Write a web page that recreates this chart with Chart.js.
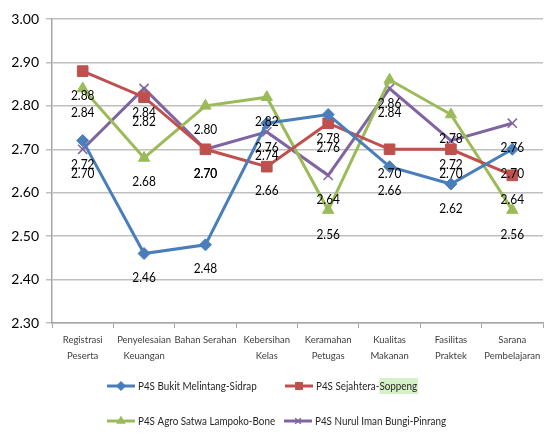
<!DOCTYPE html>
<html>
<head>
<meta charset="utf-8">
<script src="https://cdn.jsdelivr.net/npm/chart.js@4.4.1/dist/chart.umd.min.js"></script>
<style>
  html, body { margin: 0; padding: 0; background: #ffffff; }
  #wrap { width: 552px; height: 441px; position: relative; }
</style>
</head>
<body>
<div id="wrap"><canvas id="c" width="552" height="441"></canvas></div>
<script>
const categories = [
  ["Registrasi", "Peserta"],
  ["Penyelesaian", "Keuangan"],
  ["Bahan Serahan"],
  ["Kebersihan", "Kelas"],
  ["Keramahan", "Petugas"],
  ["Kualitas", "Makanan"],
  ["Fasilitas", "Praktek"],
  ["Sarana", "Pembelajaran"]
];
const seriesNames = [
  "P4S Bukit Melintang-Sidrap",
  "P4S Sejahtera-Soppeng",
  "P4S Agro Satwa Lampoko-Bone",
  "P4S Nurul Iman Bungi-Pinrang"
];
const bukitMelintang = [2.72, 2.46, 2.48, 2.76, 2.78, 2.66, 2.62, 2.70];
const sejahtera      = [2.88, 2.82, 2.70, 2.66, 2.76, 2.70, 2.70, 2.64];
const agroSatwa      = [2.84, 2.68, 2.80, 2.82, 2.56, 2.86, 2.78, 2.56];
const nurulIman      = [2.70, 2.84, 2.70, 2.74, 2.64, 2.84, 2.72, 2.76];
const yTicks = [2.30, 2.40, 2.50, 2.60, 2.70, 2.80, 2.90, 3.00];

const colors = ["#4A7EBB", "#C0504D", "#9BBB59", "#8064A2"];
const shapes = ["rectRot", "rect", "triangle", "crossRot"];
const radii  = [6, 7.5, 6.5, 6.5];
const values = [bukitMelintang, sejahtera, agroSatwa, nurulIman];

const FONT = 'Lato, "Open Sans", sans-serif';

const datasets = values.map((v, i) => ({
  label: seriesNames[i],
  data: v,
  borderColor: colors[i],
  backgroundColor: colors[i],
  borderWidth: 3,
  pointStyle: shapes[i],
  pointRadius: radii[i],
  pointBorderWidth: shapes[i] === "crossRot" ? 1.5 : 1,
  pointBorderColor: colors[i],
  pointBackgroundColor: colors[i],
  tension: 0,
  fill: false
}));

function narrowText(ctx, text, x, y, sx) {
  ctx.save();
  ctx.translate(x, y);
  ctx.scale(sx, 1);
  ctx.fillText(text, 0, 0);
  ctx.restore();
}

const valueLabels = {
  id: "valueLabels",
  afterDatasetsDraw(chart) {
    const ctx = chart.ctx;
    ctx.save();
    ctx.font = "14px " + FONT;
    ctx.fillStyle = "#000000";
    ctx.textAlign = "center";
    ctx.textBaseline = "middle";
    chart.data.datasets.forEach((ds, di) => {
      const meta = chart.getDatasetMeta(di);
      meta.data.forEach((pt, j) => {
        narrowText(ctx, ds.data[j].toFixed(2), pt.x, pt.y + 24, 0.85);
      });
    });
    ctx.restore();
  }
};

const customLegend = {
  id: "customLegend",
  afterDraw(chart) {
    const ctx = chart.ctx;
    const slots = [
      { x: 107, y: 386 }, { x: 285, y: 386 },
      { x: 107, y: 421 }, { x: 284, y: 421 }
    ];
    const SX = 0.82;
    ctx.save();
    ctx.font = "12px " + FONT;
    ctx.textBaseline = "middle";
    ctx.textAlign = "left";
    chart.data.datasets.forEach((ds, i) => {
      const s = slots[i];
      const textX = s.x + 31;
      if (ds.label.indexOf("Soppeng") >= 0) {
        const pre = ds.label.slice(0, ds.label.indexOf("Soppeng"));
        const x0 = textX + ctx.measureText(pre).width * SX;
        const w = ctx.measureText("Soppeng").width * SX;
        ctx.fillStyle = "#D6F0C8";
        ctx.fillRect(x0, s.y - 8, w + 1, 16);
      }
      ctx.strokeStyle = ds.borderColor;
      ctx.lineWidth = 3;
      ctx.beginPath();
      ctx.moveTo(s.x, s.y);
      ctx.lineTo(s.x + 28, s.y);
      ctx.stroke();
      ctx.fillStyle = ds.borderColor;
      ctx.strokeStyle = ds.borderColor;
      ctx.lineWidth = 1.5;
      Chart.helpers.drawPoint(ctx, {
        pointStyle: ds.pointStyle,
        radius: ds.pointStyle === "rect" ? 4.5 : 4,
        borderWidth: 1.5,
        rotation: 0
      }, s.x + 14, s.y);
      ctx.fillStyle = "#262626";
      narrowText(ctx, ds.label, textX, s.y, SX);
    });
    ctx.restore();
  }
};

new Chart(document.getElementById("c"), {
  type: "line",
  data: { labels: categories, datasets: datasets },
  plugins: [valueLabels, customLegend],
  options: {
    responsive: false,
    animation: false,
    layout: { padding: { left: 0, right: 9, top: 19, bottom: 78 } },
    plugins: {
      legend: { display: false },
      title: { display: false },
      tooltip: { enabled: false }
    },
    scales: {
      x: {
        type: "category",
        offset: true,
        afterFit(scale) { scale.height = 40; },
        grid: {
          display: true,
          offset: true,
          drawOnChartArea: false,
          drawTicks: true,
          tickLength: 5,
          color: "#A6A6A6",
          lineWidth: 1
        },
        border: { display: true, color: "#A6A6A6", width: 1.5 },
        ticks: {
          color: "#404040",
          font: { family: FONT, size: 9.5, lineHeight: 1.7 },
          padding: 4,
          maxRotation: 0,
          autoSkip: false
        }
      },
      y: {
        min: 2.30,
        max: 3.00,
        afterFit(scale) { scale.width = 52; },
        afterBuildTicks(scale) { scale.ticks = yTicks.map(v => ({ value: v })); },
        grid: {
          color: "#BFBFBF",
          lineWidth: 1.5,
          drawTicks: true,
          tickLength: 6
        },
        border: { display: true, color: "#A6A6A6", width: 1.5 },
        ticks: {
          color: "#000000",
          font: { family: FONT, size: 14 },
          padding: 7,
          callback: v => Number(v).toFixed(2)
        }
      }
    }
  }
});
</script>
</body>
</html>
